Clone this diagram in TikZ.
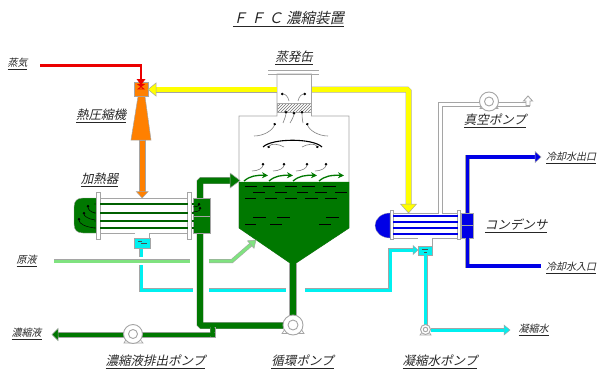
\documentclass[tikz,border=0pt]{standalone}
\usepackage{fontspec}
\setmainfont[FakeSlant=0.22]{Noto Sans CJK JP}
\usetikzlibrary{arrows.meta,patterns,calc}
\definecolor{dg}{RGB}{0,120,0}
\definecolor{lg}{RGB}{128,226,128}
\definecolor{cy}{RGB}{0,240,240}
\definecolor{bl}{RGB}{0,0,230}
\definecolor{or}{RGB}{255,128,0}
\definecolor{ye}{RGB}{255,255,0}
\definecolor{rd}{RGB}{235,0,0}
\definecolor{ln}{RGB}{165,165,165}
\tikzset{
  lab/.style={inner sep=0pt,text=black!85,font=\fontsize{12.5}{14}\selectfont},
  sml/.style={inner sep=0pt,text=black!85,font=\fontsize{10}{12}\selectfont},
  pipe/.style={draw=ln,line width=.5pt,double=#1,double distance=3pt,line join=miter},
  thick pipe/.style={draw=ln,line width=.5pt,double=#1,double distance=5pt,line join=miter},
  main pipe/.style={draw=ln,line width=.4pt,double=#1,double distance=6pt,line join=miter},
  vac pipe/.style={draw=ln,line width=.9pt,double=white,double distance=2.8pt,line join=miter},
  head/.style={draw=ln,line width=.5pt,fill=#1},
  vap/.style={draw=black!50,line width=.6pt,-{Circle[black,length=2.4pt]}},
  vapk/.style={draw=black,line width=.5pt,-{Circle[black,length=2.4pt]}},
  steam/.style={draw=dg,line width=1.3pt,-{Stealth[length=6pt,width=6pt]}},
  wall/.style={draw=ln,line width=.8pt},
  dash line/.style={draw=black,line width=.5pt},
  pumpc/.style={circle,draw=ln,line width=.9pt,fill=white,inner sep=0pt,minimum size=#1},
  pumpi/.style={circle,draw=ln,line width=.9pt,fill=white,inner sep=0pt,minimum size=#1},
  base/.style={draw=ln,line width=.7pt,fill=white}
}
\newcommand{\hd}[5]{\path[head=#2,shift={(#1)},rotate=#3] (0,0)--(-#4,#5)--(-#4,-#5)--cycle;}
\begin{document}
\begin{tikzpicture}[x=1pt,y=-1pt]
\useasboundingbox (0,0) rectangle (599,369);
% labels
\node[lab,font=\fontsize{14.5}{17}\selectfont] (title) at (288.5,19) {\underline{Ｆ Ｆ Ｃ 濃縮装置}};
\node[lab] (lEvap) at (294,58) {\underline{蒸発缶}};
\node[sml] (lSteam) at (17.5,64) {\underline{蒸気}};
\node[lab] (lThermo) at (101,116) {\underline{熱圧縮機}};
\node[lab] (lHeat) at (99.5,180) {\underline{加熱器}};
\node[sml] (lFeed) at (26.5,261) {\underline{原液}};
\node[sml] (lConc) at (26.5,334) {\underline{濃縮液}};
\node[lab] (lCP) at (155.5,362) {\underline{濃縮液排出ポンプ}};
\node[lab] (lRP) at (302.5,362) {\underline{循環ポンプ}};
\node[lab] (lWP) at (440,362) {\underline{凝縮水ポンプ}};
\node[sml] (lW) at (533.5,330) {\underline{凝縮水}};
\node[sml] (lIn) at (571,268) {\underline{冷却水入口}};
\node[sml] (lOut) at (571,158) {\underline{冷却水出口}};
\node[lab] (lCond) at (516,226) {\underline{コンデンサ}};
\node[lab] (lVac) at (495,121) {\underline{真空ポンプ}};

% key coordinates
\coordinate (steamA) at (40,65.5);
\coordinate (steamB) at (141,65.5);
\coordinate (steamC) at (141,86);
\coordinate (vapL) at (277,89.5);
\coordinate (vapLt) at (156,89.5);
\coordinate (vapR) at (312,89.5);
\coordinate (vapC) at (408.5,89.5);
\coordinate (vapD) at (408.5,204);

% vacuum line
\path[vac pipe] (440.5,214) -- (440.5,104.5) -- (528,104.5) -- (528,100);
\path[head=white,line width=.9pt,shift={(528,96)}] (0,0)--(-4.5,5)--(-2,5)--(-2,9.5)--(2,9.5)--(2,5)--(4.5,5)--cycle;
\path[base] (480,108.5)--(484,103)--(494,103)--(498,108.5)--cycle;
\node[pumpc=19pt] (pumpV) at (489,101.5) {};
\node[pumpi=9pt] (pumpVi) at (489,101.5) {};

% evaporator vessel
\path[wall,fill=white] (277,74) -- (277,116) -- (239,116) -- (239,228) -- (293,265) -- (349,228) -- (349,116) -- (311.5,116) -- (311.5,74) -- cycle;
\path[fill=dg,draw=dg] (239,182) -- (349,182) -- (349,228) -- (293,265) -- (239,228) -- cycle;
\draw[wall] (268,70.5) -- (319,70.5) (268,74) -- (319,74);
\path[pattern=north east lines,pattern color=black!55,draw=ln,line width=.4pt] (277,103) rectangle (311.5,112);
% liquid dashes
\foreach \y/\xa/\xb in {186.5/245/257,186.5/263/275,186.5/285/297,186.5/302/315,186.5/323/336,
  192/253/265,192/275/287,192/297/308,192/315/327,192/335/347,
  198/245/256,198/265/277,198/285/297,198/305/318,198/325/337,
  217/253/266,217/277/290,217/326/339,
  224/245/256,224/270/282,224/319/331} \draw[dash line] (\xa,\y)--(\xb,\y);
% steam flows
\foreach \a/\b in {244/268,269/293,293/317,319/344}
  \draw[steam] (\a,181) .. controls (\a+6,176) and (\a+12,175) .. (\b,175.5);
% vapour curves
\draw[vap] (289,101) .. controls (288,96) and (285,94) .. (281,94);
\draw[vap] (298,101) .. controls (299,96) and (302,94) .. (306,94);
\draw[vap] (283,123) .. controls (285,118) and (286,115) .. (286,111);
\draw[vap] (290,123) .. controls (293,118) and (294,115) .. (294,112);
\draw[vap] (303,123) .. controls (302,118) and (302,115) .. (302,111);
\draw[vap] (254,136) .. controls (264,136) and (273,130) .. (275,123);
\draw[vap] (328,136) .. controls (318,136) and (309,130) .. (307,123);
\draw[line width=1.1pt,black] (263,147) .. controls (272,138) and (313,138) .. (322,147);
\draw[vap] (284,147) .. controls (279,144) and (271,143) .. (268,148);
\draw[vap] (302,147) .. controls (307,144) and (315,143) .. (318,148);
\foreach \a/\b in {252/263,273/284,296/307,315/326}
  \draw[vap] (\a,171) .. controls (\a+6,171) and (\b,168) .. (\b,163);

% recirculation pipe
\coordinate (apex) at (293,264);
\path[fill=dg,draw=ln,line width=.4pt] (289.5,263) rectangle (296.5,318);
\path[fill=dg] (289.9,260) rectangle (296.1,264);
\coordinate (mainA) at (283,325.5);
\coordinate (mainB) at (200,325.5);
\coordinate (mainC) at (200,180.5);
\coordinate (mainD) at (231,180.5);
\path[main pipe=dg,rounded corners=1.5pt] (mainA) -- (mainB) -- (mainC) -- (mainD);
\hd{240,180.5}{dg}{0}{10}{7.5}
% concentrate
\path[fill=dg,draw=ln,line width=.4pt] (210,327.5) rectangle (215,337) (58,332.5) rectangle (215,337);
\path[fill=dg] (210.4,327) rectangle (214.6,336.6) (58,332.9) rectangle (214.6,336.6);
\hd{52,334.5}{dg}{180}{6}{6}
\path[base] (124,343)--(127,338)--(139,338)--(143,343)--cycle;
\node[pumpc=19pt] (pumpC) at (133,334) {};
\node[pumpi=9pt] (pumpCi) at (133,334) {};
\path[base] (282,333.5)--(285,329)--(301,329)--(304,333.5)--cycle;
\node[pumpc=20pt] (pumpR) at (293,325) {};
\node[pumpi=10pt] (pumpRi) at (293,325) {};

% heater
\path[draw=ln,line width=.8pt,fill=white] (97,198) rectangle (190,233);
\path[draw=ln,line width=.7pt] (135,233) -- (135,238.5) (149,233) -- (149,238.5);
\path[fill=white] (135.4,232) rectangle (148.6,238);
\path[fill=dg,draw=ln,line width=.4pt] (97,198) -- (83,198) .. controls (77,198) and (74,201) .. (74,207) -- (74,224) .. controls (74,230) and (77,233) .. (83,233) -- (97,233) -- cycle;
\path[fill=dg,draw=ln,line width=.4pt] (193,198) rectangle (210,233);
\draw[ln,line width=.7pt] (193,216) -- (210,216);
\foreach \y in {204,213,221,228} \draw[dg!80!black,line width=2pt] (94,\y) -- (194,\y);
\path[fill=white,draw=ln,line width=.7pt] (96.5,192) rectangle (100,239) (187.5,192) rectangle (191.5,239);
\foreach \y in {204,213,221,228} \draw[dg!80!black,line width=2pt] (100,\y) -- (187.5,\y);
\foreach \y in {204,213,221,228} \draw[dg!80!black,line width=2pt] (191.5,\y) -- (194,\y);
\draw[vapk] (95,213) .. controls (90,212) and (88,209) .. (88,205);
\draw[vapk] (95,220) .. controls (88,219) and (84,216) .. (84,212);
\draw[vapk] (95,228) .. controls (86,227) and (79,224) .. (79,218);
\draw[vapk] (193,207) .. controls (196,207) and (199,206) .. (199,203);
\draw[vapk] (193,212) .. controls (196,212) and (200,211) .. (200,207);
\draw[draw=ln,fill=or,line width=.4pt] (139.5,140) rectangle (144.8,192);
\hd{142.2,198}{or}{-90}{6.5}{6}
% heater condensate
\path[fill=cy,draw=ln,line width=.5pt] (134.5,238.5) rectangle (150,248.5);
\draw[black!70,line width=.4pt] (138,241.5) -- (142,241.5) (141,243.5)--(147,243.5);
\coordinate (drA) at (141,248.5);
\coordinate (drB) at (141,257);
\path[pipe=cy] (drA) -- (drB);
\coordinate (drC) at (141,265);
\path[pipe=cy] (drC) -- (141,290) -- (193,290);
\path[pipe=cy] (209,290) -- (286,290);
\path[pipe=cy] (305,290) -- (390,290) -- (390,250) -- (413,250);
\hd{418,250}{cy}{0}{5}{4.5}

% feed
\path[pipe=lg] (54,261) -- (190,261);
\path[pipe=lg] (209,261) -- (232,261) -- (251,244.5);
\hd{256,240}{lg}{41}{7}{5}

% steam + thermocompressor
\path[fill=or,draw=ln,line width=.5pt] (134,82) rectangle (148,96.5);
\path[fill=or,draw=ln,line width=.5pt] (138,96.5) -- (145,96.5) -- (151,140) -- (131,140) -- cycle;
\draw[rd,line width=2.6pt] (steamA) -- (steamB) -- (steamC);
\path[fill=rd] (136.5,79)--(145.5,79)--(141,85)--cycle;
\path[draw=rd,line width=.7pt] (138,84.5)--(144,89)--(138,89)--(144,84.5)--cycle;

% vapour pipe
\path[thick pipe=ye] (vapL) -- (vapLt);
\hd{148,89.5}{ye}{180}{8}{6.5}
\path[thick pipe=ye,rounded corners=1.5pt] (vapR) -- (vapC) -- (vapD);
\hd{408.5,213}{ye}{-90}{9}{8}

% condenser
\path[draw=ln,line width=.8pt,fill=white] (390,213) rectangle (461,238);
\path[draw=ln,line width=.7pt] (418,238) -- (418,246) (432,238) -- (432,246);
\path[fill=white] (418.4,237) rectangle (431.6,245.5);
\path[fill=white] (438.9,212) rectangle (442.1,213.8);
\path[fill=bl,draw=ln,line width=.3pt] (390,213) arc[start angle=-90,end angle=-270,x radius=15,y radius=12.5] -- cycle;
\foreach \y in {216,222,228,234} \draw[bl,line width=1.6pt] (390,\y) -- (461,\y);
\path[fill=white,draw=ln,line width=.7pt] (390,210) rectangle (393,239) (457.5,210) rectangle (460.5,239);
\foreach \y in {216,222,228,234} \draw[bl,line width=1.6pt] (393,\y) -- (457.5,\y);
\path[fill=bl,draw=ln,line width=.3pt] (461,213) rectangle (473,238);
\draw[ln,line width=.7pt] (461,225.5) -- (473,225.5);
% cooling water
\path[draw=ln,line width=.4pt,double=bl,double distance=3.6pt] (467.5,213) -- (467.5,157) -- (536,157);
\hd{541,157}{bl}{0}{6}{5.5}
\path[draw=ln,line width=.4pt,double=bl,double distance=3.6pt] (467.5,238) -- (467.5,266) -- (541,266);

% condensate
\path[fill=cy,draw=ln,line width=.5pt] (418,246) rectangle (432,255);
\draw[black!70,line width=.4pt] (422,249.5) -- (428,249.5) (424,252) -- (427,252);
\path[pipe=cy] (425.5,255) -- (425.5,326);
\path[pipe=cy] (431,330) -- (505,330);
\hd{510,330}{cy}{0}{6}{5}
\path[base] (420,335)--(422,332)--(429,332)--(431,335)--cycle;
\node[pumpc=10pt] (pumpW) at (425.5,329.5) {};
\node[pumpi=4.5pt] (pumpWi) at (425.5,329.5) {};
\end{tikzpicture}
\end{document}
